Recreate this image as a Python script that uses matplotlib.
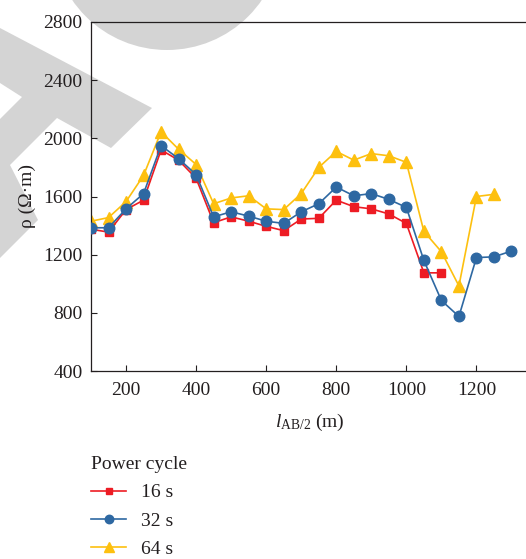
import matplotlib
matplotlib.use("Agg")
import matplotlib.pyplot as plt
from matplotlib.patches import Polygon, Circle

plt.rcParams["font.family"] = ["Liberation Serif", "DejaVu Serif"]
plt.rcParams["mathtext.fontset"] = "custom"
plt.rcParams["mathtext.rm"] = "Liberation Serif"
plt.rcParams["mathtext.it"] = "Liberation Serif:italic"

# Half electrode spacing AB/2 (m)
spacing = [100, 150, 200, 250, 300, 350, 400, 450, 500, 550, 600, 650, 700,
           750, 800, 850, 900, 950, 1000, 1050, 1100, 1150, 1200, 1250, 1300]

# Apparent resistivity (Ohm*m) for each power cycle
rho_16s = [1375, 1355, 1510, 1575, 1920, 1850, 1725, 1420, 1460, 1430, 1395,
           1365, 1445, 1450, 1575, 1530, 1515, 1480, 1415, 1075, 1075]
rho_32s = [1385, 1385, 1515, 1620, 1950, 1860, 1750, 1460, 1495, 1465, 1430,
           1415, 1495, 1550, 1665, 1605, 1620, 1580, 1525, 1160, 885, 775,
           1180, 1185, 1225]
rho_64s = [1430, 1455, 1565, 1745, 2045, 1925, 1820, 1550, 1590, 1605, 1515,
           1510, 1620, 1800, 1910, 1850, 1895, 1880, 1835, 1360, 1220, 985,
           1600, 1615]

series_labels = ["16 s", "32 s", "64 s"]
legend_title = "Power cycle"
yticks = [400, 800, 1200, 1600, 2000, 2400, 2800]
xticks = [200, 400, 600, 800, 1000, 1200]

W, H = 526, 559
fig = plt.figure(figsize=(W / 100, H / 100), dpi=100)
ink = "#231f20"

# Publisher watermark in the background (pixel coordinates)
bg = fig.add_axes([0, 0, 1, 1], zorder=0)
bg.set_xlim(0, W)
bg.set_ylim(H, 0)
bg.axis("off")
grey = "#d4d4d4"
bg.add_patch(Circle((167, -65), 115, color=grey, lw=0))
bg.add_patch(Polygon([(0, 28), (152, 108), (111, 148), (57, 118), (10, 165),
                      (38, 220), (0, 258), (0, 119), (22, 97), (0, 83)],
                     closed=True, color=grey, lw=0))

ax = fig.add_axes([91 / W, 1 - 371 / H, 438 / W, 349 / H], zorder=1)
ax.set_facecolor("none")

red = "#ed1c24"
blue = "#2e68a2"
yellow = "#fdc00f"
ax.plot(spacing[:len(rho_16s)], rho_16s, color=red, marker="s", ms=6.2,
        lw=1.2, label=series_labels[0], zorder=3)
ax.plot(spacing[:len(rho_32s)], rho_32s, color=blue, marker="o", ms=7.6,
        lw=1.2, label=series_labels[1], zorder=4)
ax.plot(spacing[:len(rho_64s)], rho_64s, color=yellow, marker="^", ms=8.6,
        lw=1.2, label=series_labels[2], zorder=2)

ax.set_xlim(100, 1350)
ax.set_ylim(400, 2800)
ax.set_xticks(xticks)
ax.set_yticks(yticks)
ax.tick_params(direction="in", length=4.5, width=0.8, colors=ink,
               labelsize=14, pad=6)
ax.tick_params(axis="x", pad=8)
for s in ax.spines.values():
    s.set_color(ink)
    s.set_linewidth(0.9)

ax.set_xlabel(r"$l_{\mathrm{AB/2}}$ (m)", fontsize=14, color=ink, labelpad=9)
ax.set_ylabel("ρ (Ω·m)", fontsize=14, color=ink, labelpad=5)

handles, labels = ax.get_legend_handles_labels()
leg = fig.legend(handles, labels, title=legend_title, loc="upper left",
                 bbox_to_anchor=(91 / W, 1 - 456 / H), frameon=False,
                 fontsize=14, title_fontsize=14, handlelength=1.8,
                 handletextpad=0.75, labelspacing=0.55, alignment="left",
                 markerscale=0.8, borderaxespad=0, borderpad=0)
for t in leg.get_texts():
    t.set_color(ink)
leg.get_title().set_color(ink)

fig.savefig("out.png", dpi=100)
